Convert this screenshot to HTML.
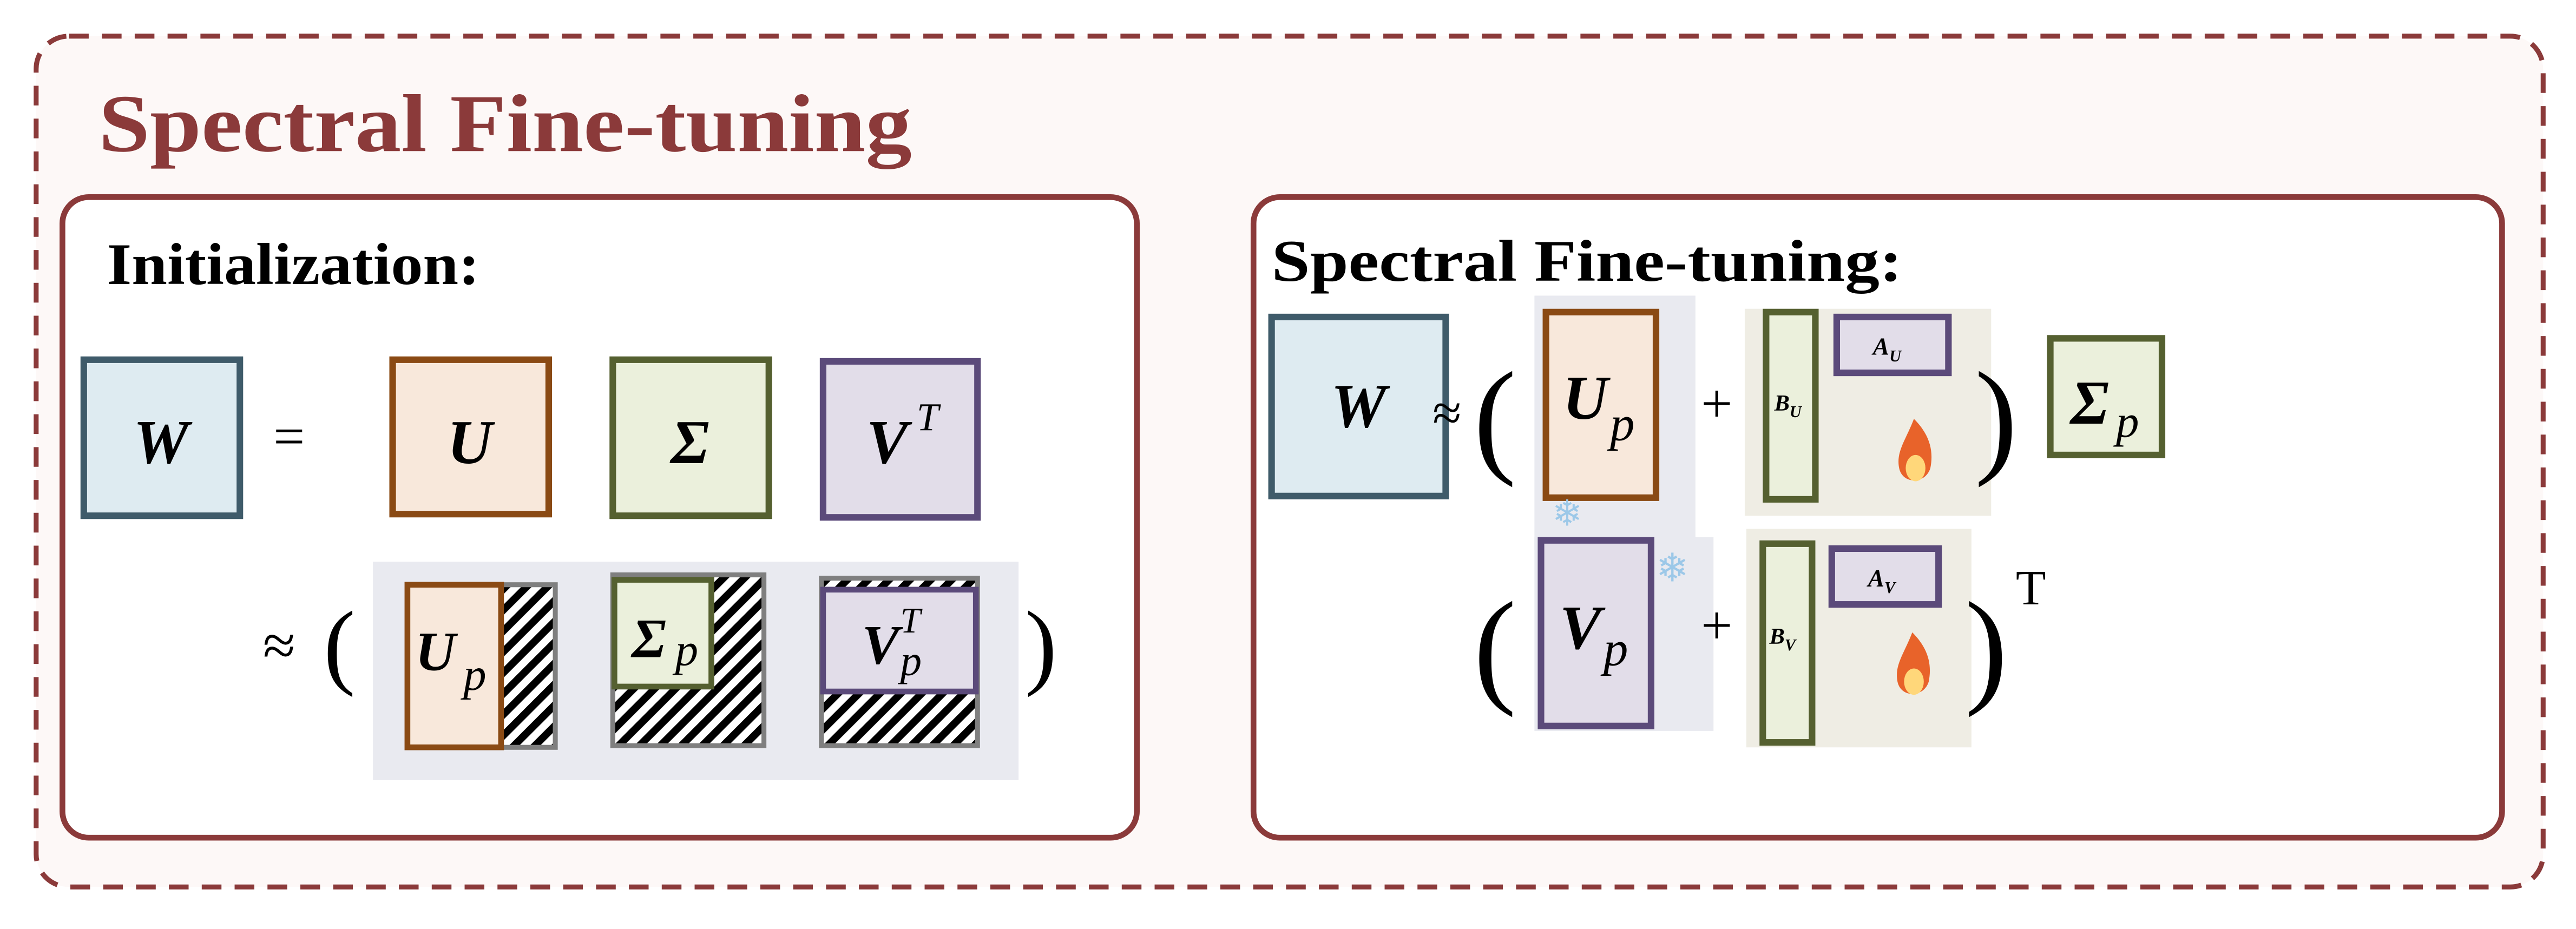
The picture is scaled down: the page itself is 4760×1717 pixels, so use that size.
<!DOCTYPE html>
<html><head><meta charset="utf-8"><style>
html,body{margin:0;padding:0;background:#fff;}
svg{display:block;}
.t{font-family:"Liberation Serif",serif;}
</style></head><body>
<svg width="4760" height="1717" viewBox="0 0 1568 565.6" preserveAspectRatio="none" xmlns="http://www.w3.org/2000/svg">
<defs>
<pattern id="hatch" patternUnits="userSpaceOnUse" width="9" height="9" patternTransform="rotate(45)">
<rect width="9" height="9" fill="#fff"/><rect width="4.5" height="9" fill="#000"/>
</pattern>
</defs>
<rect x="22" y="22" width="1526" height="518" rx="20" fill="#fdf8f7" stroke="#8b3a3a" stroke-width="3" stroke-dasharray="12,8"/>
<text x="60" y="92" class="t" font-size="50" font-weight="bold" fill="#8b3a3a" textLength="495" lengthAdjust="spacingAndGlyphs">Spectral Fine-tuning</text>

<g>
<rect x="38" y="120" width="654" height="390" rx="16" fill="#fff" stroke="#8b3a3a" stroke-width="3.5"/>
<text x="65" y="173" class="t" font-size="36" font-weight="bold" textLength="227" lengthAdjust="spacingAndGlyphs">Initialization:</text>
<rect x="51" y="219" width="95" height="95" fill="#deebf1" stroke="#3f5b6a" stroke-width="4"/>
<text x="98" y="282" class="t" font-size="38" font-weight="bold" font-style="italic" text-anchor="middle">W</text>
<text x="176" y="277" class="t" font-size="34" text-anchor="middle">=</text>
<rect x="239" y="219" width="95" height="94" fill="#f8e8db" stroke="#8a4a14" stroke-width="4"/>
<text x="286" y="282" class="t" font-size="38" font-weight="bold" font-style="italic" text-anchor="middle">U</text>
<rect x="373" y="219" width="95" height="95" fill="#ebf0dc" stroke="#556030" stroke-width="4"/>
<text x="420" y="282" class="t" font-size="38" font-weight="bold" font-style="italic" text-anchor="middle">Σ</text>
<rect x="501" y="220" width="94" height="95" fill="#e2dde9" stroke="#5b4a7a" stroke-width="4"/>
<text x="540" y="282" class="t" font-size="38" font-weight="bold" font-style="italic" text-anchor="middle">V</text>
<text x="558" y="262" class="t" font-size="24" font-style="italic">T</text>

<text x="160" y="405" class="t" font-size="36">≈</text>
<text x="197" y="412" class="t" font-size="58">(</text>
<rect x="227" y="342" width="393" height="133" fill="#e9eaf0"/>
<rect x="284" y="356" width="54" height="99" fill="url(#hatch)" stroke="#7f7f7f" stroke-width="3"/>
<rect x="248" y="356" width="57" height="99" fill="#f8e8db" stroke="#8a4a14" stroke-width="3.5"/>
<text x="265" y="408" class="t" font-size="34" font-weight="bold" font-style="italic" text-anchor="middle">U</text>
<text x="282" y="420" class="t" font-size="28" font-style="italic">p</text>
<rect x="373" y="350" width="92" height="104" fill="url(#hatch)" stroke="#7f7f7f" stroke-width="3"/>
<rect x="374" y="353" width="59" height="65" fill="#ebf0dc" stroke="#556030" stroke-width="3.5"/>
<text x="395" y="400" class="t" font-size="34" font-weight="bold" font-style="italic" text-anchor="middle">Σ</text>
<text x="411" y="405" class="t" font-size="28" font-style="italic">p</text>
<rect x="500" y="352" width="95" height="102" fill="url(#hatch)" stroke="#7f7f7f" stroke-width="3"/>
<rect x="501" y="359" width="93" height="62" fill="#e2dde9" stroke="#5b4a7a" stroke-width="3.5"/>
<text x="536" y="404" class="t" font-size="34" font-weight="bold" font-style="italic" text-anchor="middle">V</text>
<text x="548" y="385" class="t" font-size="22" font-style="italic">T</text>
<text x="548" y="411" class="t" font-size="26" font-style="italic">p</text>
<text x="624" y="412" class="t" font-size="58">)</text>
</g>

<g>
<rect x="763" y="120" width="760" height="390" rx="16" fill="#fff" stroke="#8b3a3a" stroke-width="3.5"/>
<text x="774" y="171" class="t" font-size="36" font-weight="bold" textLength="384" lengthAdjust="spacingAndGlyphs">Spectral Fine-tuning:</text>
<rect x="774" y="193" width="106" height="109" fill="#deebf1" stroke="#3f5b6a" stroke-width="4"/>
<text x="827" y="260" class="t" font-size="38" font-weight="bold" font-style="italic" text-anchor="middle">W</text>
<text x="872" y="262" class="t" font-size="32">≈</text>
<text x="897" y="280" class="t" font-size="78">(</text>
<rect x="934" y="180" width="98" height="155" fill="#e9eaf0"/>
<rect x="934" y="327" width="109" height="118" fill="#e9eaf0"/>
<rect x="941" y="190" width="67" height="113" fill="#f8e8db" stroke="#8a4a14" stroke-width="4"/>
<text x="965" y="255" class="t" font-size="38" font-weight="bold" font-style="italic" text-anchor="middle">U</text>
<text x="980" y="268" class="t" font-size="30" font-style="italic">p</text>
<text x="954" y="320" font-family="DejaVu Sans,sans-serif" font-size="22" fill="#9cc8e8" text-anchor="middle">❄</text>
<rect x="1062" y="188" width="150" height="126" fill="#efede4"/>
<text x="1045" y="257" class="t" font-size="34" text-anchor="middle">+</text>
<rect x="1075" y="190" width="30" height="114" fill="#ebf0dc" stroke="#556030" stroke-width="4"/>
<text x="1080" y="250" class="t" font-size="14" font-weight="bold" font-style="italic">B<tspan font-size="10" dy="4">U</tspan></text>
<rect x="1118" y="193" width="68" height="34" fill="#e2dde9" stroke="#5b4a7a" stroke-width="4"/>
<text x="1140" y="216" class="t" font-size="15" font-weight="bold" font-style="italic">A<tspan font-size="10" dy="4">U</tspan></text>
<g><path d="M1165 255 C1175 265 1177 275 1175 285 C1172 295 1158 295 1156 285 C1154 275 1160 268 1165 255Z" fill="#e8632a"/><ellipse cx="1166" cy="285" rx="6" ry="8" fill="#ffd77a"/></g>
<text x="1202" y="280" class="t" font-size="78">)</text>
<rect x="1248" y="206" width="68" height="71" fill="#ebf0dc" stroke="#556030" stroke-width="4"/>
<text x="1272" y="258" class="t" font-size="38" font-weight="bold" font-style="italic" text-anchor="middle">Σ</text>
<text x="1288" y="266" class="t" font-size="28" font-style="italic">p</text>

<text x="897" y="420" class="t" font-size="78">(</text>
<rect x="938" y="329" width="67" height="113" fill="#e2dde9" stroke="#5b4a7a" stroke-width="4"/>
<text x="962" y="395" class="t" font-size="38" font-weight="bold" font-style="italic" text-anchor="middle">V</text>
<text x="976" y="405" class="t" font-size="30" font-style="italic">p</text>
<text x="1018" y="354" font-family="DejaVu Sans,sans-serif" font-size="24" fill="#9cc8e8" text-anchor="middle">❄</text>
<text x="1045" y="392" class="t" font-size="34" text-anchor="middle">+</text>
<rect x="1063" y="322" width="137" height="133" fill="#efede4"/>
<rect x="1073" y="331" width="30" height="121" fill="#ebf0dc" stroke="#556030" stroke-width="4"/>
<text x="1077" y="392" class="t" font-size="14" font-weight="bold" font-style="italic">B<tspan font-size="10" dy="4">V</tspan></text>
<rect x="1115" y="334" width="65" height="34" fill="#e2dde9" stroke="#5b4a7a" stroke-width="4"/>
<text x="1137" y="357" class="t" font-size="15" font-weight="bold" font-style="italic">A<tspan font-size="10" dy="4">V</tspan></text>
<g><path d="M1164 385 C1174 395 1176 405 1174 415 C1171 425 1157 425 1155 415 C1153 405 1159 398 1164 385Z" fill="#e8632a"/><ellipse cx="1165" cy="415" rx="6" ry="8" fill="#ffd77a"/></g>
<text x="1196" y="420" class="t" font-size="78">)</text>
<text x="1227" y="368" class="t" font-size="30">T</text>
</g>
</svg>
</body></html>
